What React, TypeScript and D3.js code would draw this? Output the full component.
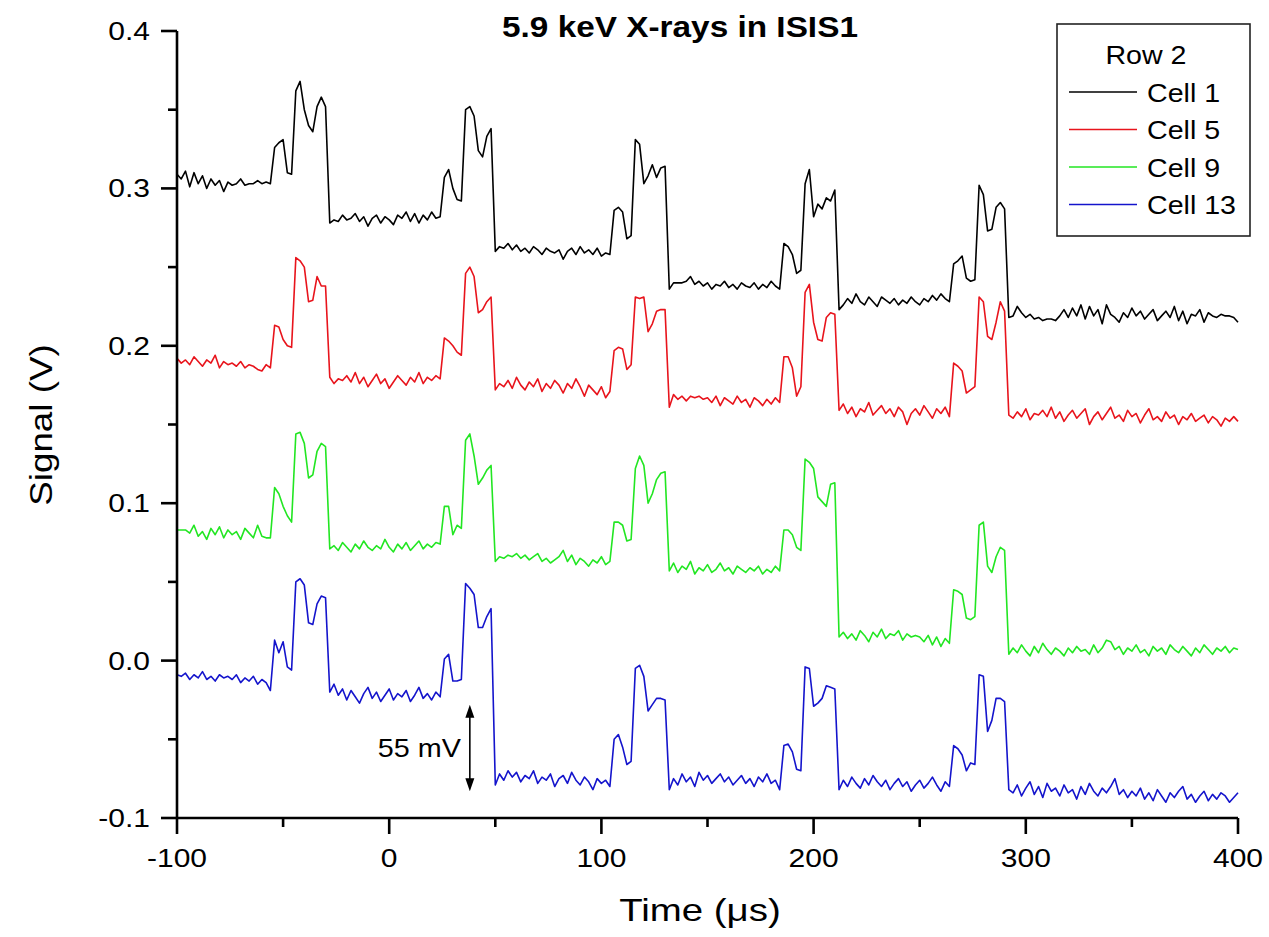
import React, { useEffect, useRef } from "react";
import * as d3 from "d3";

// signals in mV, one sample every 2 us starting at -100 us
const timeStart = -100;
const timeStep = 2;

const cell1 = [
  309, 306, 311, 301, 310, 303, 308, 300, 306, 302, 305, 298, 304, 302, 303, 306, 302, 303, 303, 305, 303, 304, 303,
  326, 329, 331, 310, 309, 362, 368, 350, 340, 336, 352, 358, 352,
  278, 280, 279, 283, 280, 281, 284, 279, 282, 276, 281, 283, 278, 282, 280, 277, 283, 281, 285, 279, 284, 278, 283, 280, 285, 281, 282,
  307, 312, 300, 293, 292, 350, 352, 346, 324, 320, 333, 338,
  260, 263, 262, 265, 261, 264, 260, 262, 259, 263, 261, 258, 262, 260, 259, 261, 255, 260, 262, 258, 263, 259, 261, 258, 262, 257, 259, 258,
  286, 288, 285, 268, 270, 331, 328, 303, 308, 315, 307, 313, 314,
  236, 240, 240, 240, 241, 244, 239, 241, 238, 240, 236, 239, 238, 241, 237, 239, 236, 240, 238, 237, 240, 236, 239, 237, 241, 238, 236,
  265, 263, 258, 246, 248, 303, 312, 282, 290, 287, 294, 292, 299,
  223, 226, 230, 227, 233, 228, 226, 231, 228, 225, 231, 229, 227, 230, 226, 229, 227, 231, 228, 226, 230, 228, 232, 229, 233, 230, 228,
  252, 254, 257, 243, 241, 242, 302, 296, 273, 274, 288, 291, 287,
  218, 219, 225, 221, 218, 220, 217, 218, 216, 217, 217, 216, 219, 223, 218, 224, 219, 226, 217, 225, 219, 223, 214, 226, 220, 218, 215,
  221, 218, 224, 219, 222, 217, 220, 223, 216, 219, 222, 218, 225, 216, 222, 214, 220, 219, 223, 215, 221, 219, 218, 220, 219, 219, 218, 215,
];

const cell5 = [
  192, 189, 191, 188, 193, 190, 187, 191, 189, 194, 186, 190, 188, 189, 187, 190, 186, 188, 187, 185, 184, 188, 186,
  213, 212, 204, 200, 199, 256, 254, 250, 228, 229, 244, 238, 238,
  180, 176, 179, 178, 181, 177, 183, 176, 180, 174, 178, 182, 176, 179, 173, 177, 181, 178, 175, 180, 177, 183, 176, 180, 178, 181, 179,
  205, 203, 200, 196, 194, 246, 250, 244, 221, 223, 228, 231,
  172, 176, 174, 178, 173, 180, 175, 172, 177, 174, 179, 171, 176, 173, 178, 175, 170, 176, 173, 179, 174, 168, 175, 172, 169, 174, 167, 171,
  197, 199, 198, 185, 188, 231, 230, 231, 209, 214, 222, 223, 223,
  161, 169, 166, 168, 165, 168, 167, 168, 166, 167, 164, 168, 162, 167, 165, 163, 168, 164, 166, 161, 167, 165, 162, 166, 163, 167, 164,
  193, 193, 186, 168, 174, 234, 239, 215, 204, 203, 218, 221, 220,
  159, 163, 157, 161, 155, 160, 158, 164, 156, 159, 162, 157, 160, 155, 161, 158, 150, 157, 160, 156, 162, 158, 154, 160, 157, 161, 155,
  189, 187, 184, 170, 172, 174, 231, 228, 206, 204, 215, 228, 222,
  156, 154, 158, 155, 160, 153, 157, 156, 159, 155, 161, 154, 158, 152, 156, 159, 154, 157, 160, 150, 155, 158, 153, 157, 161, 154, 156,
  152, 159, 155, 157, 151, 156, 160, 153, 155, 152, 158, 154, 156, 150, 155, 153, 157, 152, 154, 156, 151, 155, 153, 149, 154, 152, 155, 152,
];

const cell9 = [
  83, 83, 83, 81, 86, 79, 82, 77, 84, 80, 85, 78, 83, 80, 82, 77, 84, 81, 78, 86, 79, 78, 78,
  110, 106, 98, 92, 88, 144, 145, 138, 116, 118, 133, 138, 136,
  71, 73, 70, 75, 72, 69, 74, 71, 76, 72, 70, 73, 71, 77, 72, 69, 74, 71, 75, 70, 73, 76, 71, 74, 72, 75, 74,
  98, 98, 80, 86, 84, 140, 144, 130, 112, 116, 121, 124,
  63, 66, 65, 67, 66, 68, 65, 67, 64, 66, 68, 63, 65, 62, 64, 66, 70, 63, 67, 61, 65, 63, 60, 64, 62, 66, 61, 63,
  88, 88, 86, 76, 77, 122, 130, 124, 100, 106, 115, 119, 120,
  57, 62, 56, 60, 58, 63, 55, 59, 57, 61, 56, 58, 62, 57, 59, 55, 60, 58, 56, 59, 57, 60, 55, 58, 56, 60, 57,
  83, 83, 80, 72, 70, 128, 126, 122, 104, 101, 98, 112, 113,
  15, 18, 14, 17, 13, 19, 16, 12, 18, 15, 20, 14, 17, 16, 19, 13, 17, 15, 16, 15, 12, 16, 10, 15, 9, 14, 11,
  45, 44, 42, 27, 26, 28, 86, 88, 60, 56, 66, 72, 70,
  4, 8, 5, 10, 6, 3, 9, 5, 11, 7, 4, 8, 6, 3, 8, 5, 9, 6, 7, 4, 10, 5, 8, 13, 12, 7, 9,
  4, 8, 6, 10, 5, 7, 3, 9, 6, 8, 4, 10, 7, 5, 9, 6, 3, 8, 5, 10, 7, 4, 8, 6, 9, 5, 8, 7,
];

const cell13 = [
  -9, -10, -8, -12, -9, -11, -7, -12, -10, -13, -9, -11, -10, -12, -9, -14, -11, -13, -10, -15, -12, -14, -19,
  13, 5, 12, -4, -6, 50, 52, 48, 24, 23, 36, 41, 40,
  -20, -15, -22, -18, -25, -19, -23, -27, -21, -17, -24, -20, -26, -22, -18, -25, -21, -23, -19, -26, -22, -17, -24, -21, -25, -20, -23,
  1, 4, -13, -13, -12, 49, 46, 42, 21, 21, 28, 33,
  -79, -72, -76, -70, -74, -71, -77, -73, -75, -70, -78, -74, -76, -72, -80, -75, -73, -78, -71, -76, -79, -74, -77, -82, -75, -78, -76, -80,
  -50, -47, -55, -66, -64, -5, -3, -10, -32, -28, -24, -24, -25,
  -82, -75, -79, -72, -77, -74, -80, -71, -76, -73, -78, -75, -72, -77, -74, -79, -76, -73, -78, -75, -80, -74, -77, -72, -78, -76, -82,
  -54, -53, -58, -69, -70, -4, -5, -29, -27, -24, -16, -17, -18,
  -82, -76, -80, -74, -78, -81, -75, -79, -73, -77, -80, -76, -82, -78, -75, -80, -77, -83, -79, -76, -81, -78, -74, -79, -83, -77, -80,
  -54, -56, -60, -70, -65, -66, -9, -10, -45, -38, -24, -24, -26,
  -82, -84, -79, -86, -81, -77, -85, -80, -87, -78, -83, -81, -86, -79, -84, -82, -88, -80, -85, -78, -83, -86, -81, -84, -80, -75, -85,
  -82, -87, -83, -86, -81, -88, -84, -89, -82, -86, -90, -84, -87, -83, -80, -88, -85, -90, -86, -83, -89, -85, -88, -84, -86, -90, -87, -84,
];

const seriesNames = ["Cell 1", "Cell 5", "Cell 9", "Cell 13"];
const seriesData = [cell1, cell5, cell9, cell13];
const seriesColors = ["#000000", "#e8141c", "#22e622", "#1414cc"];
const legendTitle = "Row 2";

const xTicks = [-100, 0, 100, 200, 300, 400];
const xTickLabels = ["-100", "0", "100", "200", "300", "400"];
const xMinorTicks = [-50, 50, 150, 250, 350];
const yTicks = [-0.1, 0, 0.1, 0.2, 0.3, 0.4];
const yTickLabels = ["-0.1", "0.0", "0.1", "0.2", "0.3", "0.4"];
const yMinorTicks = [-0.05, 0.05, 0.15, 0.25, 0.35];

// 55 mV step marker
const markTime = 38;
const markTop = -0.028;
const markBottom = -0.083;
const markLabel = "55 mV";

const FONT = "Arial, 'Liberation Sans', sans-serif";

const drawChart = (node: SVGSVGElement) => {
  const svg = d3.select(node);
  svg.selectAll("*").remove();

  const x = d3.scaleLinear().domain([-100, 400]).range([177, 1238]);
  const y = d3.scaleLinear().domain([-0.1, 0.4]).range([818, 31]);

  // stretched text helper (the source image text is wider than normal)
  const label = (
    tx: number,
    ty: number,
    str: string,
    size: number,
    anchor: string,
    sx: number,
    weight = "normal"
  ) =>
    svg
      .append("text")
      .attr("transform", "translate(" + tx + "," + ty + ") scale(" + sx + ",1)")
      .attr("text-anchor", anchor)
      .attr("font-family", FONT)
      .attr("font-size", size)
      .attr("font-weight", weight)
      .attr("fill", "#000")
      .text(str);

  // traces
  const line = d3
    .line<number>()
    .x((d, i) => x(timeStart + i * timeStep))
    .y((d) => y(d / 1000));

  seriesData.forEach((s, k) => {
    svg
      .append("path")
      .attr("d", line(s))
      .attr("fill", "none")
      .attr("stroke", seriesColors[k])
      .attr("stroke-width", 1.6)
      .attr("stroke-linejoin", "round");
  });

  // axes
  const g = svg.append("g").attr("stroke", "#000").attr("stroke-width", 2.6);
  g.append("line")
    .attr("x1", x(-100))
    .attr("x2", x(-100))
    .attr("y1", y(0.4))
    .attr("y2", y(-0.1));
  g.append("line")
    .attr("x1", x(-100))
    .attr("x2", x(400))
    .attr("y1", y(-0.1))
    .attr("y2", y(-0.1));

  g.selectAll(".ymaj")
    .data(yTicks)
    .enter()
    .append("line")
    .attr("x1", x(-100) - 16)
    .attr("x2", x(-100))
    .attr("y1", (d) => y(d))
    .attr("y2", (d) => y(d));
  g.selectAll(".ymin")
    .data(yMinorTicks)
    .enter()
    .append("line")
    .attr("x1", x(-100) - 9)
    .attr("x2", x(-100))
    .attr("y1", (d) => y(d))
    .attr("y2", (d) => y(d));
  g.selectAll(".xmaj")
    .data(xTicks)
    .enter()
    .append("line")
    .attr("x1", (d) => x(d))
    .attr("x2", (d) => x(d))
    .attr("y1", y(-0.1))
    .attr("y2", y(-0.1) + 16);
  g.selectAll(".xmin")
    .data(xMinorTicks)
    .enter()
    .append("line")
    .attr("x1", (d) => x(d))
    .attr("x2", (d) => x(d))
    .attr("y1", y(-0.1))
    .attr("y2", y(-0.1) + 9);

  yTicks.forEach((d, i) => label(x(-100) - 27, y(d) + 9, yTickLabels[i], 25, "end", 1.2));
  xTicks.forEach((d, i) => label(x(d), y(-0.1) + 49, xTickLabels[i], 25, "middle", 1.2));

  // axis titles and chart title
  label(700, 921, "Time (\u03bcs)", 32, "middle", 1.2);
  svg
    .append("text")
    .attr("transform", "translate(52,425) rotate(-90) scale(1.15,1)")
    .attr("text-anchor", "middle")
    .attr("font-family", FONT)
    .attr("font-size", 32)
    .text("Signal (V)");
  label(502, 37, "5.9 keV X-rays in ISIS1", 29, "start", 1.15, "bold");

  // 55 mV marker
  const mx = x(markTime);
  const top = y(markTop);
  const bot = y(markBottom);
  svg
    .append("line")
    .attr("x1", mx)
    .attr("x2", mx)
    .attr("y1", top + 10)
    .attr("y2", bot - 10)
    .attr("stroke", "#000")
    .attr("stroke-width", 1.6);
  svg
    .append("path")
    .attr(
      "d",
      "M" + mx + "," + top + "l-4.5,13h9z" + "M" + mx + "," + bot + "l-4.5,-13h9z"
    )
    .attr("fill", "#000");
  label(mx - 9, (top + bot) / 2 + 9, markLabel, 25, "end", 1.15);

  // legend
  const lx = 1057;
  const ly = 24;
  svg
    .append("rect")
    .attr("x", lx)
    .attr("y", ly)
    .attr("width", 193)
    .attr("height", 212)
    .attr("fill", "#fff")
    .attr("stroke", "#222")
    .attr("stroke-width", 1.6);
  label(lx + 89, ly + 40, legendTitle, 26, "middle", 1.1);
  seriesNames.forEach((name, k) => {
    const yy = ly + 68 + k * 37.5;
    svg
      .append("line")
      .attr("x1", lx + 12)
      .attr("x2", lx + 80)
      .attr("y1", yy)
      .attr("y2", yy)
      .attr("stroke", seriesColors[k])
      .attr("stroke-width", 1.6);
    label(lx + 90, yy + 9.5, name, 26, "start", 1.1);
  });
};

const App = () => {
  const ref = useRef<SVGSVGElement>(null);
  useEffect(() => {
    if (ref.current) drawChart(ref.current);
  });
  return (
    <svg
      ref={ref}
      width={1269}
      height={937}
      style={{ position: "absolute", left: 0, top: 0, background: "#fff" }}
    />
  );
};

export default App;
